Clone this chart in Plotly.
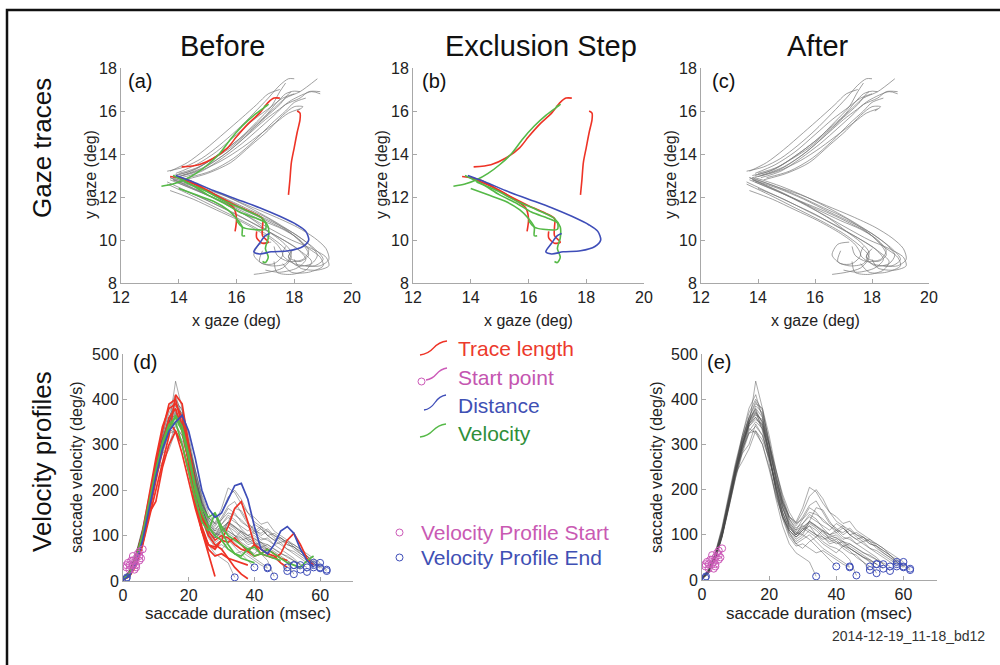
import plotly.graph_objects as go

W, H = 1000, 665

# ---------------- DATA ----------------
panel_titles = ["Before", "Exclusion Step", "After"]
row_titles = ["Gaze traces", "Velocity profiles"]
panel_letters = ["(a)", "(b)", "(c)", "(d)", "(e)"]
gaze_xticks = [12, 14, 16, 18, 20]
gaze_yticks = [8, 10, 12, 14, 16, 18]
vel_xticks = [0, 20, 40, 60]
vel_yticks = [0, 100, 200, 300, 400, 500]
legend_line_labels = ["Trace length", "Start point", "Distance", "Velocity"]
legend_marker_labels = ["Velocity Profile Start", "Velocity Profile End"]
footer = "2014-12-19_11-18_bd12"

# gray (kept) gaze traces: upper arm
gray_upper = [
    [(13.6,13.2),(14.2,13.4),(14.8,13.8),(15.4,14.4),(16.0,15.1),(16.6,15.9),(17.1,16.6),(17.5,17.2),(17.8,17.5),(18.0,17.5)],
    [(13.9,13.0),(14.6,13.3),(15.3,13.9),(16.0,14.6),(16.6,15.3),(17.2,16.0),(17.7,16.6),(18.2,16.9),(18.8,17.5)],
    [(14.1,12.9),(14.8,13.2),(15.5,13.8),(16.2,14.5),(16.8,15.2),(17.3,15.8),(17.7,16.3),(18.2,16.6),(18.5,16.9),(18.9,16.9)],
    [(13.9,13.1),(14.6,13.5),(15.3,14.1),(16.0,14.9),(16.6,15.6),(17.2,16.2),(17.6,16.6),(18.0,16.8)],
    [(14.2,12.8),(15.0,13.1),(15.8,13.6),(16.5,14.4),(17.1,15.1),(17.6,15.8),(18.0,16.2),(18.3,16.2),(18.1,16.0)],
    [(13.8,13.0),(14.4,13.2),(15.1,13.7),(15.8,14.3),(16.4,15.0),(17.0,15.7),(17.5,16.3),(17.9,16.9),(18.2,16.9)],
    [(14.0,12.95),(14.8,13.3),(15.6,14.0),(16.3,14.8),(16.9,15.6),(17.4,16.4),(17.7,16.8),(17.9,16.9)],
    [(14.3,12.9),(15.1,13.2),(15.9,13.8),(16.6,14.6),(17.2,15.4),(17.7,16.0),(18.0,16.4),(18.4,16.6)],
    [(13.7,13.2),(14.3,13.6),(14.9,14.2),(15.6,15.0),(16.2,15.7),(16.7,16.3),(17.1,16.8),(17.5,17.0)],
    [(14.1,13.0),(14.9,13.4),(15.7,14.1),(16.4,14.9),(17.0,15.6),(17.5,16.1),(17.9,16.5),(18.6,16.9),(18.9,16.8)],
    [(13.8,12.9),(14.7,13.2),(15.5,13.7),(16.2,14.3),(16.9,15.0),(17.4,15.5),(17.8,15.9),(18.2,16.1)],
    [(14.0,13.1),(14.7,13.4),(15.4,14.0),(16.1,14.7),(16.7,15.5),(17.2,16.2),(17.5,16.9),(17.7,17.3)],
]
# gray (kept) gaze traces: lower arm with end loops
gray_lower = [
    [(13.7,12.9),(14.5,12.4),(15.3,11.9),(16.1,11.4),(16.9,10.9),(17.6,10.5),(18.2,10.0),(18.5,9.5),(18.3,9.1),(17.8,9.0),(17.4,9.3),(17.3,9.7)],
    [(13.8,12.8),(14.7,12.3),(15.6,11.7),(16.4,11.1),(17.2,10.5),(17.9,10.0),(18.6,9.6),(19.1,9.2),(19.2,8.8),(18.8,8.6),(18.2,8.7),(18.0,9.1)],
    [(13.6,12.7),(14.4,12.2),(15.2,11.7),(16.0,11.2),(16.8,10.6),(17.5,10.1),(18.1,9.6),(18.4,9.1),(18.1,8.7),(17.5,8.5),(17.0,8.6)],
    [(13.9,12.9),(14.8,12.5),(15.7,12.0),(16.6,11.4),(17.4,10.8),(18.1,10.2),(18.7,9.6),(19.0,9.1),(18.7,8.8),(18.0,8.9),(17.6,9.3),(17.7,9.7)],
    [(13.7,12.3),(14.5,11.9),(15.3,11.4),(16.1,10.9),(16.9,10.3),(17.4,9.8),(17.6,9.3),(17.3,8.9),(16.9,8.9),(16.6,9.3),(16.8,9.8),(17.2,9.9)],
    [(13.8,12.9),(14.6,12.5),(15.5,12.1),(16.4,11.6),(17.3,11.1),(18.1,10.6),(18.7,10.1),(19.1,9.6),(19.2,9.1),(18.9,8.8),(18.4,8.8)],
    [(13.9,12.7),(14.8,12.2),(15.7,11.6),(16.5,11.0),(17.1,10.4),(17.6,9.9),(17.9,9.4),(17.7,8.9),(17.2,8.8),(16.8,9.0),(16.9,9.5)],
    [(13.6,12.6),(14.4,12.1),(15.3,11.5),(16.2,10.9),(17.0,10.3),(17.6,9.7),(17.9,9.2),(17.6,8.7),(17.1,8.5),(16.6,8.4)],
    [(13.8,12.8),(14.7,12.4),(15.6,11.9),(16.5,11.3),(17.3,10.8),(18.0,10.3),(18.5,9.8),(18.8,9.3),(18.6,8.9),(18.1,8.8),(17.8,9.2),(18.0,9.6)],
    [(13.7,12.9),(14.6,12.5),(15.5,12.0),(16.3,11.5),(17.1,11.0),(17.8,10.4),(18.3,9.8),(18.5,9.3),(18.2,9.0),(17.8,9.2),(17.9,9.5)],
    [(14.0,12.4),(14.9,11.9),(15.8,11.3),(16.7,10.7),(17.5,10.1),(18.2,9.5),(18.6,9.0),(18.4,8.6),(17.9,8.4),(17.4,8.5),(17.3,9.0)],
    [(13.7,12.8),(14.6,12.3),(15.5,11.8),(16.4,11.3),(17.2,10.8),(17.9,10.3),(18.4,9.7),(18.9,9.2),(19.0,8.8),(18.5,8.5),(17.9,8.5),(17.6,8.9)],
]
# excluded gaze traces, by exclusion criterion
red_gaze = [
    [(14.1,13.4),(14.7,13.5),(15.2,13.8),(15.7,14.3),(16.0,14.8),(16.4,15.4),(16.8,15.9),(17.1,16.4),(17.3,16.6),(17.5,16.6)],
    [(17.8,12.1),(17.85,12.8),(17.9,13.6),(18.0,14.3),(18.1,15.0),(18.2,15.6),(18.2,15.9),(18.1,16.0)],
    [(13.7,12.95),(14.3,12.8),(15.0,12.3),(15.5,11.9),(15.9,11.5),(16.0,11.0),(15.95,10.4)],
    [(14.0,12.9),(14.7,12.5),(15.4,12.0),(16.0,11.6),(16.5,11.3),(16.9,11.0),(16.9,10.6),(16.9,10.2),(17.1,9.9),(16.9,9.85),(16.7,10.1),(16.7,10.4)],
]
green_gaze = [
    [(13.4,12.5),(13.8,12.6),(14.2,12.8),(14.6,13.1),(15.0,13.5),(15.4,14.0),(15.8,14.7),(16.2,15.3),(16.6,15.8),(17.0,16.2),(17.1,16.3),(16.95,16.2)],
    [(13.8,13.0),(14.4,12.6),(15.0,12.1),(15.6,11.7),(16.1,11.3),(16.7,11.0),(17.0,10.8),(17.0,10.5),(16.5,10.5),(16.2,10.6),(16.0,10.9)],
    [(14.0,12.4),(14.6,12.1),(15.2,11.8),(15.7,11.4),(16.0,11.0),(16.2,10.6),(16.2,10.2),(16.3,10.2)],
    [(14.2,12.7),(14.9,12.3),(15.6,11.8),(16.3,11.4),(16.9,11.0),(17.1,10.6),(17.1,10.1),(17.0,9.6),(17.1,9.2),(17.0,8.95),(16.9,9.0)],
]
blue_gaze = [
    [(13.9,13.0),(14.5,12.7),(15.2,12.3),(16.0,11.9),(16.8,11.5),(17.5,11.1),(18.1,10.7),(18.4,10.4),(18.5,10.0),(18.3,9.7),(17.8,9.5),(17.2,9.45),(16.8,9.35),(16.6,9.45),(16.8,9.85),(17.0,10.2),(17.15,10.3)],
]

# velocity profiles, sampled every 2 ms
t_ms = [0,2,4,6,8,10,12,14,16,18,20,22,24,26,28,30,32,34,36,38,40,42,44,46,48,50,52,54,56,58,60,62]
gray_vel = [
    [2,15,50,100,170,240,300,345,370,350,285,210,150,115,100,125,145,135,115,100,105,90,95,80,85,70,65,55,45,35,28],
    [4,20,60,115,185,255,315,360,395,365,300,225,165,120,95,110,120,100,95,80,85,70,60,55,40,30],
    [3,18,45,95,160,225,280,325,340,320,270,205,150,110,90,100,130,160,155,130,110,120,100,90,95,80,75,60,50,35],
    [5,22,58,110,180,250,310,355,375,330,260,180,120,80,60,50,40,8],
    [2,16,48,98,165,235,295,345,365,355,300,240,185,140,120,140,165,175,150,125,115,100,110,95,85,90,75,65,55,40,30,22],
    [4,20,55,105,175,245,305,350,385,370,310,235,170,125,100,115,105,95,110,90,80,85,70,60,50,45,35,25],
    [3,19,52,102,170,240,290,325,330,300,245,185,140,105,85,95,110,100,85,75,70,60,45,10],
    [2,17,50,100,168,238,298,350,380,360,295,220,160,125,110,135,160,150,130,120,105,115,100,90,80,70,60,50,40,30],
    [5,24,62,118,190,260,320,370,400,375,305,230,170,130,105,100,90,75,60,45,30],
    [3,18,50,100,165,232,290,340,360,340,290,230,175,135,115,125,140,130,120,110,125,115,100,105,95,85,80,70,60,50,40],
    [4,21,57,108,178,246,304,352,372,350,280,200,140,100,80,90,100,85,70,60,50,40,30],
    [2,15,46,95,160,228,285,330,350,335,285,225,175,140,125,150,185,200,180,150,130,120,110,100,95,85,70,60,50,40,30],
    [4,20,55,110,180,250,310,360,390,380,320,245,180,135,110,120,110,100,90,95,85,75,80,70,60,55,45,35],
    [3,19,53,103,172,242,300,345,360,335,275,205,150,115,100,110,125,115,100,90,95,80,70,60,50,42,35],
    [2,17,49,99,167,236,296,340,355,345,300,245,190,150,125,135,150,145,135,120,110,105,115,100,90,80,75,65,55,45,35,25],
    [5,23,60,112,182,252,312,358,378,345,275,195,135,95,75,80,70,60,65,55,45,35,28],
    [3,18,51,101,169,239,297,342,440,380,300,220,160,120,100,115,130,120,105,95,100,85,75,65,55,45,35],
    [4,21,56,107,176,244,280,300,345,320,270,210,160,120,105,118,128,118,108,100,92,85,80,70,62,52,45,38,30],
    [3,20,54,104,174,250,320,380,410,360,280,200,140,110,95,105,120,110,95,85,90,75,70,60,50,40,15],
    [2,16,47,97,162,230,288,335,325,300,250,190,140,110,95,110,130,120,110,100,110,95,90,80,70,60,50,35,20],
    [3,17,50,98,166,236,262,290,330,310,268,215,170,140,128,160,205,195,170,150,140,125,130,110,100,90,80,70,55,40],
    [4,19,54,104,172,240,300,350,368,340,275,205,145,105,80,70,85,95,80,70,60,75,65,50,40,22],
]
red_vel = [
    [3,15,45,100,180,260,330,390,400,340,260,180,110,60,10],
    [2,10,35,80,140,200,260,320,410,390,300,210,140,100,80,70,50,30,15,5],
    [3,14,40,90,160,230,300,360,380,330,260,180,120,80,70,90,120,160,175,130,80,60,55,50,60,90,105,80,50,35],
    [2,12,38,85,150,175,250,300,330,300,240,170,110,80,75,90,85,95,80,65,55,60,70,60,50,45],
    [4,18,50,110,190,270,340,380,390,360,290,210,150,110,90,100,95,80,70,65,80,70,60,55,40,30],
    [2,11,36,82,150,220,290,350,330,280,220,160,110,70,55,60,50,45,40,35],
]
green_vel = [
    [3,15,45,100,170,240,300,330,365,340,280,210,160,140,150,120,100,90,80,70,75,60,55,50,45],
    [2,12,40,95,165,235,295,340,350,300,240,180,130,110,150,110,80,60,55,70,55,60,70,60,50,40,35,30,45,55],
    [4,18,50,105,175,245,305,345,360,330,270,200,150,120,100,90,70,60,50,45,40],
]
blue_vel = [
    [2,12,40,90,160,230,290,330,350,365,330,270,200,160,140,150,180,210,215,180,120,70,60,80,110,120,105,70,45,30],
]
vp_start_t = [1.0,1.5,2.0,2.5,3.0,3.0,3.5,4.0,4.0,4.5,5.0,5.0,5.5,6.0,3.0,4.0,2.0,5.0,1.0,3.5]
vp_start_v = [30,40,25,45,35,55,40,50,30,60,45,65,50,70,45,35,35,55,35,25]
vp_extra_end_t = [1.0, 1.2]
vp_extra_end_v = [5, 8]

# ---------------- STYLE ----------------
FONT = "Liberation Sans, Arial, Helvetica, sans-serif"
RED = "#ee3326"
GREEN = "#55b947"
BLUE = "#3e4db8"
MAGENTA = "#cc5ab8"
GRAY_G = "rgba(120,120,120,0.7)"
GRAY_V = "rgba(70,70,70,0.5)"
AXC = "#a8a8a8"

def px(x):
    return x / W

def py(y):
    return 1 - y / H

panels = {
    "a": dict(ax="", x=(121, 352), y=(68, 283)),
    "b": dict(ax="2", x=(413, 644), y=(68, 283)),
    "c": dict(ax="3", x=(701, 929), y=(68, 283)),
    "d": dict(ax="4", x=(123, 353), y=(354, 581)),
    "e": dict(ax="5", x=(702, 937), y=(354, 580)),
}

fig = go.Figure()

def add_lines(traces_xy, color, width, axkey):
    for tr in traces_xy:
        fig.add_trace(go.Scatter(
            x=[p[0] for p in tr], y=[p[1] for p in tr], mode="lines",
            line=dict(color=color, width=width, shape="spline", smoothing=0.8),
            xaxis="x" + axkey, yaxis="y" + axkey, showlegend=False, hoverinfo="skip"))

def add_vel(vels, color, width, axkey):
    for v in vels:
        fig.add_trace(go.Scatter(
            x=t_ms[:len(v)], y=v, mode="lines",
            line=dict(color=color, width=width),
            xaxis="x" + axkey, yaxis="y" + axkey, showlegend=False, hoverinfo="skip"))

def add_markers(axkey):
    fig.add_trace(go.Scatter(
        x=vp_start_t, y=vp_start_v, mode="markers",
        marker=dict(symbol="circle-open", size=7, color=MAGENTA, line=dict(width=1)),
        xaxis="x" + axkey, yaxis="y" + axkey, showlegend=False, hoverinfo="skip"))
    ends_t = [t_ms[len(v) - 1] for v in gray_vel] + vp_extra_end_t
    ends_v = [v[-1] for v in gray_vel] + vp_extra_end_v
    fig.add_trace(go.Scatter(
        x=ends_t, y=ends_v, mode="markers",
        marker=dict(symbol="circle-open", size=7, color=BLUE, line=dict(width=1)),
        xaxis="x" + axkey, yaxis="y" + axkey, showlegend=False, hoverinfo="skip"))

# (a) before
add_lines(gray_upper + gray_lower, GRAY_G, 1, panels["a"]["ax"])
add_lines(red_gaze, RED, 1.6, panels["a"]["ax"])
add_lines(green_gaze, GREEN, 1.6, panels["a"]["ax"])
add_lines(blue_gaze, BLUE, 1.6, panels["a"]["ax"])
# (b) exclusion step
add_lines(red_gaze, RED, 1.6, panels["b"]["ax"])
add_lines(green_gaze, GREEN, 1.6, panels["b"]["ax"])
add_lines(blue_gaze, BLUE, 1.6, panels["b"]["ax"])
# (c) after
add_lines(gray_upper + gray_lower, GRAY_G, 1, panels["c"]["ax"])
# (d) velocity before
add_vel(gray_vel, GRAY_V, 0.9, panels["d"]["ax"])
add_vel(red_vel, RED, 1.7, panels["d"]["ax"])
add_vel(green_vel, GREEN, 1.7, panels["d"]["ax"])
add_vel(blue_vel, BLUE, 1.7, panels["d"]["ax"])
add_markers(panels["d"]["ax"])
# (e) velocity after
add_vel(gray_vel, GRAY_V, 0.9, panels["e"]["ax"])
add_markers(panels["e"]["ax"])

axstyle = dict(showline=True, linecolor=AXC, linewidth=1, ticks="inside", ticklen=4,
               tickcolor=AXC, showgrid=False, zeroline=False, fixedrange=True,
               automargin=False,
               tickfont=dict(family=FONT, size=16, color="#222"))

layout = dict(width=W, height=H, autosize=False, margin=dict(l=0, r=0, t=0, b=0, pad=0),
              plot_bgcolor="white", paper_bgcolor="white", showlegend=False)
for key, p in panels.items():
    a = p["ax"]
    gaze = key in ("a", "b", "c")
    xd = [px(p["x"][0]), px(p["x"][1])]
    yd = [py(p["y"][1]), py(p["y"][0])]
    xa = dict(axstyle, domain=xd, anchor="y" + a)
    ya = dict(axstyle, domain=yd, anchor="x" + a)
    if gaze:
        xa.update(range=[12, 20], tickvals=gaze_xticks)
        ya.update(range=[8, 18], tickvals=gaze_yticks)
    else:
        xa.update(range=[0, 70], tickvals=vel_xticks)
        ya.update(range=[0, 500], tickvals=vel_yticks)
    layout["xaxis" + a] = xa
    layout["yaxis" + a] = ya
fig.update_layout(**layout)

ann = []
def text(x, y, s, size, color="#111", angle=0, xanchor="center"):
    ann.append(dict(x=px(x), y=py(y), xref="paper", yref="paper", text=s, showarrow=False,
                    font=dict(family=FONT, size=size, color=color), textangle=angle,
                    xanchor=xanchor, yanchor="middle"))

# column titles and row titles
for s, cx in zip(panel_titles, [222, 541, 818]):
    text(cx, 46, s, 29)
text(42, 148, row_titles[0], 26, angle=-90)
text(42, 462, row_titles[1], 26, angle=-90)
# panel letters
for s, (x, y) in zip(panel_letters, [(140, 81), (434, 81), (723, 81), (145, 362), (719, 362)]):
    text(x, y, s, 20)
# axis titles
for cx in [236, 528, 815]:
    text(cx, 320, "x gaze (deg)", 16, color="#222")
for cx in [91, 382, 671]:
    text(cx, 175, "y gaze (deg)", 16, color="#222", angle=-90)
for cx in [238, 819]:
    text(cx, 613, "saccade duration (msec)", 17, color="#222")
for cx in [76, 656]:
    text(cx, 467, "saccade velocity (deg/s)", 16, color="#222", angle=-90)
# legend texts
leg_colors = ["#ec3a2c", "#c455b0", "#3f50b4", "#2f8f3a"]
for s, c, y in zip(legend_line_labels, leg_colors, [348, 377, 405, 433]):
    text(456, y, s, 21, color=c, xanchor="left")
for s, c, y in zip(legend_marker_labels, ["#c95ab3", "#3f50b4"], [532, 557]):
    text(419, y, s, 21, color=c, xanchor="left")
text(987, 636, footer, 14, color="#333", xanchor="right")
fig.update_layout(annotations=ann)

# legend icons and frame
def squiggle(x0, y0, x1, y1):
    xm, ym = (x0 + x1) / 2, (y0 + y1) / 2
    return (f"M{px(x0)},{py(y0)} Q{px(x0 + (x1 - x0) * 0.3)},{py(y0 - 1)} {px(xm)},{py(ym)} "
            f"T{px(x1)},{py(y1)}")

shapes = []
icon_colors = [RED, MAGENTA, BLUE, GREEN]
icon_pos = [(420, 355, 447, 341), (426, 380, 447, 368), (424, 410, 446, 395), (420, 437, 446, 424)]
for c, (x0, y0, x1, y1) in zip(icon_colors, icon_pos):
    shapes.append(dict(type="path", xref="paper", yref="paper", path=squiggle(x0, y0, x1, y1),
                       line=dict(color=c, width=1.3)))
shapes.append(dict(type="circle", xref="paper", yref="paper", x0=px(418), x1=px(425),
                   y0=py(385), y1=py(378), line=dict(color=MAGENTA, width=1)))
shapes.append(dict(type="circle", xref="paper", yref="paper", x0=px(396), x1=px(403),
                   y0=py(536), y1=py(529), line=dict(color=MAGENTA, width=1)))
shapes.append(dict(type="circle", xref="paper", yref="paper", x0=px(396), x1=px(403),
                   y0=py(561), y1=py(554), line=dict(color=BLUE, width=1)))
# frame: only top and left edges fall inside the picture
shapes.append(dict(type="path", xref="paper", yref="paper",
                   path=f"M{px(7)},0 L{px(7)},{py(10)} L1,{py(10)}",
                   line=dict(color="#111", width=2.5)))
fig.update_layout(shapes=shapes)

# remove the page's default 8px body margin so the figure fills the window exactly
fig.write_html("out.html",
               config={"displayModeBar": False},
               post_script="document.body.style.margin='0';document.body.style.overflow='hidden';")
